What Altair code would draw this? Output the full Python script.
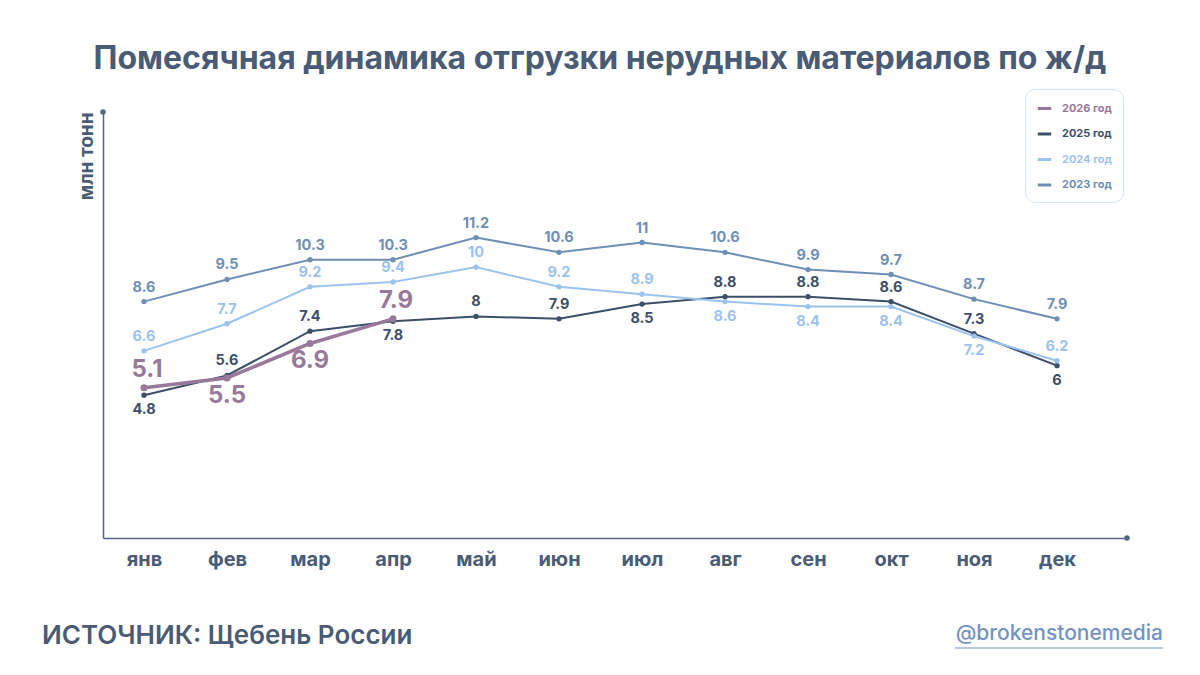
import altair as alt
import pandas as pd

# Monthly shipments of non-metallic materials by rail, million tonnes
months = ["янв", "фев", "мар", "апр", "май", "июн", "июл", "авг", "сен", "окт", "ноя", "дек"]
series_names = ["2026 год", "2025 год", "2024 год", "2023 год"]
values_2023 = [8.6, 9.5, 10.3, 10.3, 11.2, 10.6, 11, 10.6, 9.9, 9.7, 8.7, 7.9]
values_2024 = [6.6, 7.7, 9.2, 9.4, 10, 9.2, 8.9, 8.6, 8.4, 8.4, 7.2, 6.2]
values_2025 = [4.8, 5.6, 7.4, 7.8, 8, 7.9, 8.5, 8.8, 8.8, 8.6, 7.3, 6]
values_2026 = [5.1, 5.5, 6.9, 7.9]

# month indexes whose value label sits under the point
labels_below = {
    "2023 год": [],
    "2024 год": [7, 8, 9, 10],
    "2025 год": [0, 3, 6, 11],
    "2026 год": [1, 2],
}

colors = ["#98799a", "#3e4f69", "#9cc3ee", "#6f8fb5"]
text_dark = "#4a5b75"
font = "Inter"

x_domain = [-0.494, 11.843]
y_domain = [-1, 16.3]

rows = []
for name, vals in zip(series_names, [values_2026, values_2025, values_2024, values_2023]):
    for i, v in enumerate(vals):
        rows.append({
            "series": name,
            "m": i,
            "v": v,
            "label": f"{v:g}",
            "below": i in labels_below[name],
        })
df = pd.DataFrame(rows)

color_scale = alt.Scale(domain=series_names, range=colors)
month_expr = "[" + ",".join(f"'{m}'" for m in months) + "][datum.value]"

x_enc = alt.X(
    "m:Q",
    scale=alt.Scale(domain=x_domain, nice=False, zero=False),
    axis=alt.Axis(
        values=list(range(12)), labelExpr=month_expr, ticks=False, grid=False,
        title=None, labelFontSize=20, labelFont=font, labelFontWeight="bold",
        labelColor=text_dark, labelPadding=11, domainColor="#56687f", domainWidth=1.5,
    ),
)
y_enc = alt.Y(
    "v:Q",
    scale=alt.Scale(domain=y_domain, nice=False, zero=False),
    axis=alt.Axis(
        labels=False, ticks=False, grid=False, title="млн тонн",
        titleFont=font, titleFontSize=19, titleFontWeight="bold", titleColor=text_dark,
        titleAngle=270, titleX=-17, titleY=0, titleAlign="right", titleBaseline="middle",
        domainColor="#56687f", domainWidth=1.5,
    ),
)

base = alt.Chart(df).encode(x=x_enc, y=y_enc)

label_color_expr = (
    "datum.label == '2026 год' ? '#98799a' : datum.label == '2025 год' ? '#3e4f69' : "
    "datum.label == '2024 год' ? '#9cc3ee' : '#6f8fb5'"
)

older = alt.datum.series != "2026 год"
latest = alt.datum.series == "2026 год"

lines_old = base.transform_filter(older).mark_line(strokeWidth=2).encode(
    color=alt.Color(
        "series:N", scale=color_scale,
        legend=alt.Legend(
            title=None, orient="none", legendX=922, legendY=-23,
            symbolType="stroke", symbolStrokeWidth=3, symbolSize=180,
            labelFont=font, labelFontSize=11, labelFontWeight="bold",
            labelColor={"expr": label_color_expr},
            padding=11, rowPadding=10.5, strokeColor="#d4e3f4", cornerRadius=10,
            fillColor="white", labelOffset=9,
        ),
    ),
    detail="series:N",
    order="m:Q",
)
points_old = base.transform_filter(older).mark_circle(size=28, opacity=1).encode(
    color=alt.Color("series:N", scale=color_scale, legend=None)
)
line_new = base.transform_filter(latest).mark_line(strokeWidth=3.5).encode(
    color=alt.Color("series:N", scale=color_scale, legend=None), order="m:Q"
)
points_new = base.transform_filter(latest).mark_circle(size=50, opacity=1).encode(
    color=alt.Color("series:N", scale=color_scale, legend=None)
)

text_common = dict(font=font, fontWeight="bold", fontSize=14.5, baseline="middle")
labels_above = base.transform_filter(older).transform_filter(alt.datum.below == False).mark_text(
    dy=-14, **text_common
).encode(text="label:N", color=alt.Color("series:N", scale=color_scale, legend=None))
labels_under = base.transform_filter(older).transform_filter(alt.datum.below == True).mark_text(
    dy=15, **text_common
).encode(text="label:N", color=alt.Color("series:N", scale=color_scale, legend=None))

big_text = dict(font=font, fontWeight="bold", fontSize=24, baseline="middle")
new_above = base.transform_filter(latest).transform_filter(alt.datum.below == False).mark_text(
    dy=-18, dx=3, **big_text
).encode(text="label:N", color=alt.Color("series:N", scale=color_scale, legend=None))
new_under = base.transform_filter(latest).transform_filter(alt.datum.below == True).mark_text(
    dy=18, **big_text
).encode(text="label:N", color=alt.Color("series:N", scale=color_scale, legend=None))

# round caps at the far ends of both axes
axis_ends = pd.DataFrame({"m": [x_domain[0], x_domain[1]], "v": [y_domain[1], y_domain[0]]})
end_dots = alt.Chart(axis_ends).mark_circle(size=30, color="#56687f", opacity=1).encode(
    x=alt.X("m:Q", scale=alt.Scale(domain=x_domain, nice=False, zero=False)),
    y=alt.Y("v:Q", scale=alt.Scale(domain=y_domain, nice=False, zero=False)),
)

src = alt.Chart(pd.DataFrame({"t": ["ИСТОЧНИК: Щебень России"]})).mark_text(
    font=font, fontSize=26, fontWeight=600, color=text_dark, align="left", baseline="middle"
).encode(text="t:N", x=alt.value(-61), y=alt.value(524))

handle = alt.Chart(pd.DataFrame({"t": ["@brokenstonemedia"]})).mark_text(
    font=font, fontSize=21, fontWeight=500, color="#7393c0", align="right", baseline="middle"
).encode(text="t:N", x=alt.value(1060), y=alt.value(522))
underline = alt.Chart(pd.DataFrame({"t": [0]})).mark_rule(color="#7393c0", strokeWidth=1.2).encode(
    x=alt.value(852), x2=alt.value(1060), y=alt.value(536)
)

chart = alt.layer(
    lines_old, points_old, line_new, points_new,
    labels_above, labels_under, new_above, new_under,
    end_dots, src, handle, underline,
).resolve_scale(color="shared").properties(
    width=1024,
    height=426,
    autosize=alt.AutoSizeParams(type="none"),
    padding={"left": 103, "top": 112, "right": 73, "bottom": 137},
    background="white",
    title=alt.TitleParams(
        "Помесячная динамика отгрузки нерудных материалов по ж/д",
        font=font, fontSize=32, fontWeight="bold", color=text_dark,
        anchor="middle", offset=13, dx=-15,
    ),
).configure_view(stroke=None)

chart.save("out.html", embed_options={"renderer": "svg", "actions": False})
